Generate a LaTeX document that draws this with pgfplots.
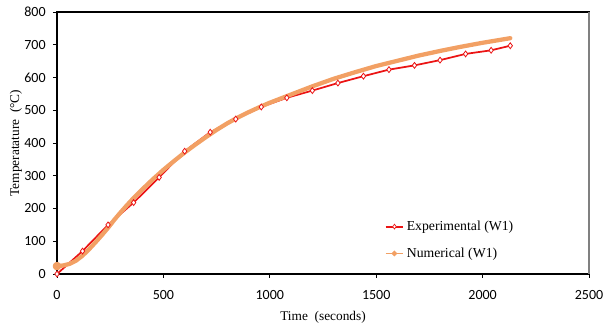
\documentclass[border=0pt]{standalone}
\usepackage{pgfplots}
\pgfplotsset{compat=1.18}
\usepackage{fontspec}
\setmainfont{Liberation Serif}
\newfontfamily\tickfont{Carlito}
\definecolor{expred}{RGB}{235,20,20}
\definecolor{numorange}{RGB}{242,160,100}
\begin{document}
\begin{tikzpicture}[x=1pt,y=1pt]
\begin{axis}[
  scale only axis,
  width=399pt, height=196.5pt,
  xmin=0, xmax=2500, ymin=0, ymax=800,
  xtick={0,500,...,2500}, ytick={0,100,...,800},
  tick align=outside, tick pos=left,
  major tick length=3pt,
  tick style={black, line width=0.6pt},
  axis line style={black, line width=0.8pt},
  /pgf/number format/assume math mode=true,
  /pgf/number format/1000 sep={},
  ticklabel style={font=\tickfont\fontsize{10.5}{12}\selectfont},
  xticklabel style={yshift=-6pt},
  yticklabel style={xshift=-2pt},
  xlabel={Time\ \ (seconds)},
  ylabel={Temperatature\ \ (°C)},
  label style={font=\fontsize{10}{12}\selectfont},
  xlabel style={yshift=-2pt},
  ylabel style={yshift=-5pt},
  legend style={at={(rel axis cs:0.613,0.04)}, anchor=south west, draw=none, fill=none,
    font=\fontsize{10.3}{12}\selectfont, row sep=7.5pt, inner sep=1pt},
  legend cell align=left,
  legend image code/.code={\draw[mark repeat=2,mark phase=2,#1] plot coordinates {(0cm,0cm)(0.23cm,0cm)(0.46cm,0cm)};},
  clip=false,
]
\addlegendimage{color=expred, line width=1.5pt, mark=diamond*, mark size=1.8pt, mark options={fill=white, draw=expred, line width=0.5pt}}
\addlegendentry{Experimental (W1)}
\addlegendimage{color=numorange, line width=1.2pt, mark=*, mark size=1.4pt}
\addlegendentry{Numerical (W1)}
\addplot[forget plot, color=expred, line width=1.3pt, mark=diamond*, mark size=2.2pt,
  mark options={fill=white, draw=expred, line width=0.6pt}] coordinates {
(0,0) (120,70) (240,150) (360,218) (480,295) (600,375) (720,433) (840,473)
(960,510) (1080,538) (1200,560) (1320,583) (1440,604) (1560,624) (1680,637)
(1800,653) (1920,672) (2040,683) (2130,697)
};
\addplot[forget plot, color=numorange, line width=3.2pt, mark=*, mark size=1.6pt,
  mark repeat=100, line cap=round, line join=round] coordinates {
(0,24) (30,26) (60,31) (90,41) (120,56) (150,75) (180,96) (210,118) (240,141)
(270,166) (300,189) (330,211) (360,232) (400,258) (450,289) (500,318) (550,345)
(600,371) (650,395) (700,418) (750,440) (800,460) (850,478) (900,494) (950,509)
(1000,523) (1100,548) (1200,573) (1300,596) (1400,616) (1500,635) (1600,651)
(1700,667) (1800,681) (1900,694) (2000,706) (2130,720)
};
\draw[gray, line width=1pt] (rel axis cs:1,0) -- (rel axis cs:1,1);
\end{axis}
\pgfresetboundingbox
\useasboundingbox ([shift={(-42.75pt,-41.25pt)}]current axis.south west) rectangle ([shift={(12pt,9pt)}]current axis.north east);
\end{tikzpicture}
\end{document}
